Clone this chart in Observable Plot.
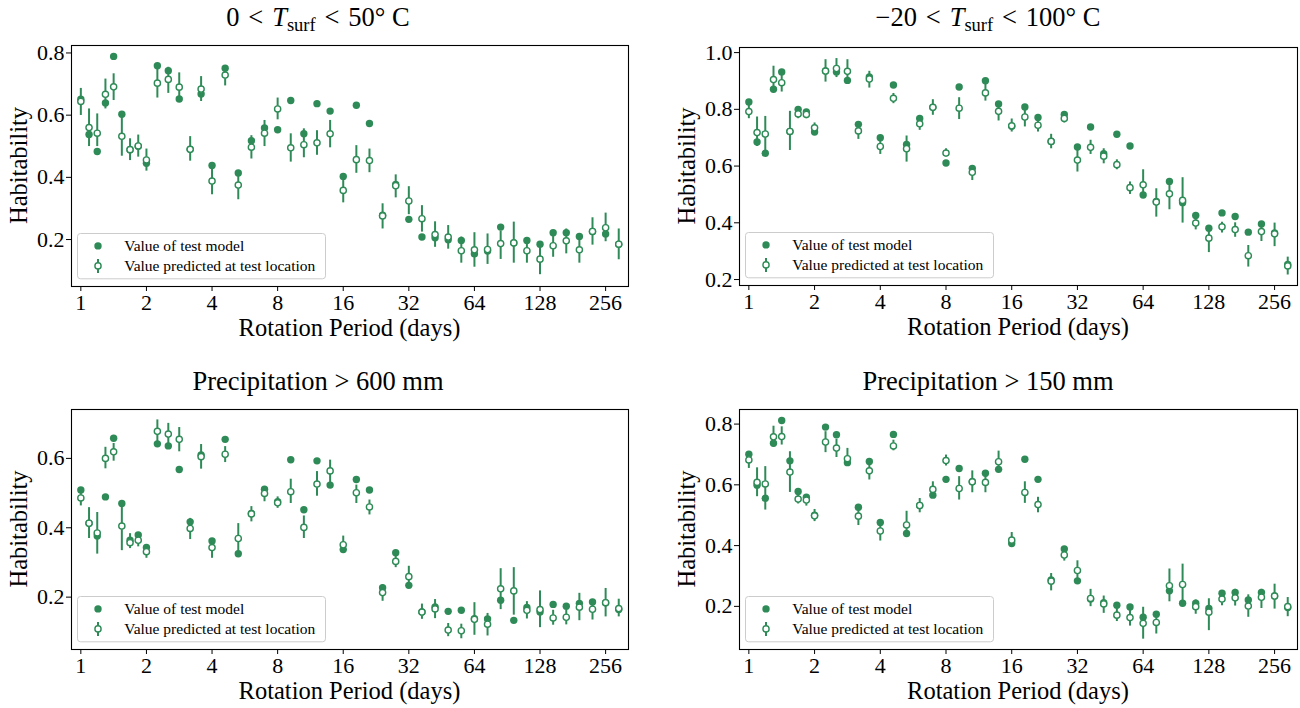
<!DOCTYPE html>
<html><head><meta charset="utf-8">
<script src="https://cdn.jsdelivr.net/npm/d3@7"></script>
<script src="https://cdn.jsdelivr.net/npm/@observablehq/plot@0.6"></script>
<style>
html,body{margin:0;padding:0;background:#fff;}
#root{position:relative;width:1300px;height:708px;overflow:hidden;font-family:"Liberation Serif","Times New Roman",serif;}
#root > svg{position:absolute;}
</style></head><body><div id="root"></div><script>
// ---------- data ----------
const periods = [1, 1.0905, 1.1892, 1.2968, 1.4142, 1.5422, 1.6818, 1.834, 2,
  2.2449, 2.5198, 2.8284, 3.1748, 3.5636, 4,
  4.5948, 5.278, 6.0629, 6.9644, 8, 9.1896, 10.556, 12.126, 13.929, 16,
  18.379, 21.112, 24.251, 27.858, 32, 36.758, 42.224, 48.503, 55.715, 64,
  73.517, 84.449, 97.006, 111.43, 128, 147.03, 168.9, 194.01, 222.86, 256, 294.07];
const xTicks = [1, 2, 4, 8, 16, 32, 64, 128, 256];
const legendLabels = ["Value of test model", "Value predicted at test location"];
const yLabel = "Habitability";
const xLabel = "Rotation Period (days)";

// Panel A: 0 < T_surf < 50 C
const modelA = [0.651,0.538,0.483,0.639,0.789,0.603,0.489,0.500,0.445,0.759,0.743,0.652,0.490,0.668,0.438,0.751,0.414,0.518,0.559,0.553,0.647,0.540,0.637,0.613,0.403,0.632,0.573,0.278,0.377,0.265,0.208,0.206,0.199,0.197,0.154,0.163,0.240,0.190,0.197,0.185,0.222,0.222,0.210,0.226,0.218,0.185];
const predA  = [0.644,0.560,0.542,0.667,0.691,0.532,0.489,0.501,0.456,0.703,0.715,0.690,0.490,0.684,0.388,0.729,0.375,0.497,0.542,0.620,0.495,0.505,0.511,0.540,0.358,0.457,0.454,0.276,0.373,0.324,0.267,0.216,0.208,0.164,0.167,0.168,0.187,0.189,0.164,0.137,0.180,0.196,0.167,0.226,0.238,0.185];
const loA    = [0.599,0.499,0.499,0.620,0.647,0.468,0.454,0.465,0.420,0.655,0.670,0.647,0.452,0.644,0.344,0.694,0.328,0.459,0.499,0.585,0.449,0.463,0.471,0.495,0.318,0.413,0.415,0.234,0.334,0.280,0.224,0.175,0.169,0.124,0.111,0.120,0.136,0.124,0.124,0.087,0.143,0.154,0.124,0.182,0.193,0.135];
const hiA    = [0.686,0.620,0.604,0.716,0.733,0.602,0.524,0.536,0.491,0.749,0.754,0.736,0.531,0.724,0.427,0.754,0.414,0.534,0.583,0.655,0.540,0.556,0.550,0.583,0.400,0.502,0.491,0.315,0.408,0.370,0.309,0.257,0.245,0.208,0.222,0.218,0.227,0.256,0.202,0.184,0.218,0.234,0.208,0.270,0.285,0.234];

// Panel B: -20 < T_surf < 100 C
const modelB = [0.826,0.685,0.645,0.871,0.932,0.722,0.800,0.791,0.720,0.935,0.932,0.902,0.747,0.914,0.700,0.886,0.676,0.768,0.807,0.611,0.879,0.592,0.901,0.819,0.740,0.808,0.771,0.687,0.782,0.667,0.738,0.644,0.712,0.671,0.498,0.475,0.546,0.471,0.426,0.381,0.435,0.422,0.367,0.396,0.364,0.253];
const predB  = [0.792,0.718,0.713,0.905,0.894,0.722,0.784,0.782,0.735,0.935,0.944,0.934,0.724,0.907,0.669,0.839,0.661,0.749,0.807,0.646,0.804,0.578,0.858,0.793,0.742,0.773,0.744,0.687,0.768,0.621,0.666,0.635,0.605,0.524,0.534,0.473,0.502,0.479,0.399,0.346,0.386,0.376,0.284,0.369,0.361,0.248];
const loB    = [0.767,0.669,0.638,0.865,0.861,0.655,0.767,0.767,0.720,0.896,0.912,0.896,0.694,0.875,0.641,0.820,0.614,0.726,0.779,0.632,0.764,0.549,0.829,0.759,0.720,0.738,0.720,0.661,0.752,0.579,0.641,0.608,0.587,0.500,0.491,0.420,0.446,0.399,0.375,0.295,0.364,0.349,0.244,0.334,0.316,0.216];
const hiB    = [0.814,0.773,0.775,0.952,0.926,0.793,0.802,0.796,0.752,0.975,0.979,0.975,0.744,0.934,0.691,0.856,0.706,0.773,0.834,0.661,0.841,0.596,0.891,0.820,0.766,0.796,0.764,0.712,0.791,0.664,0.691,0.661,0.622,0.544,0.587,0.520,0.544,0.559,0.420,0.385,0.402,0.400,0.320,0.391,0.399,0.279];

// Panel C: Precipitation > 600 mm
const modelC = [0.509,0.413,0.376,0.489,0.658,0.470,0.364,0.379,0.343,0.642,0.636,0.568,0.417,0.610,0.362,0.655,0.325,0.441,0.511,0.475,0.596,0.452,0.593,0.523,0.337,0.539,0.509,0.227,0.328,0.234,0.157,0.172,0.159,0.162,0.138,0.137,0.191,0.133,0.170,0.157,0.179,0.174,0.182,0.186,0.184,0.164];
const predC  = [0.486,0.413,0.385,0.600,0.619,0.405,0.357,0.364,0.331,0.678,0.670,0.655,0.398,0.605,0.343,0.612,0.369,0.440,0.499,0.472,0.504,0.401,0.526,0.564,0.351,0.501,0.460,0.213,0.303,0.259,0.157,0.166,0.105,0.103,0.136,0.122,0.224,0.218,0.162,0.164,0.140,0.142,0.171,0.165,0.184,0.167];
const loC    = [0.463,0.369,0.324,0.570,0.592,0.334,0.340,0.345,0.312,0.643,0.636,0.619,0.366,0.569,0.312,0.588,0.326,0.417,0.475,0.456,0.470,0.369,0.491,0.516,0.326,0.470,0.437,0.188,0.285,0.228,0.136,0.138,0.086,0.080,0.090,0.088,0.164,0.148,0.137,0.112,0.119,0.120,0.132,0.134,0.143,0.143];
const hiC    = [0.499,0.458,0.444,0.632,0.643,0.462,0.383,0.384,0.345,0.711,0.701,0.689,0.427,0.640,0.364,0.634,0.412,0.461,0.518,0.489,0.540,0.434,0.562,0.595,0.376,0.523,0.480,0.235,0.321,0.289,0.180,0.193,0.124,0.122,0.184,0.153,0.282,0.285,0.187,0.218,0.162,0.164,0.211,0.193,0.225,0.194];

// Panel D: Precipitation > 150 mm
const modelD = [0.701,0.599,0.556,0.737,0.812,0.679,0.578,0.559,0.500,0.790,0.765,0.673,0.526,0.677,0.476,0.766,0.440,0.532,0.566,0.618,0.654,0.610,0.638,0.651,0.407,0.684,0.618,0.287,0.389,0.284,0.224,0.212,0.204,0.198,0.164,0.174,0.251,0.210,0.210,0.193,0.243,0.246,0.221,0.246,0.234,0.196];
const predD  = [0.682,0.608,0.603,0.758,0.759,0.642,0.553,0.550,0.498,0.741,0.721,0.686,0.497,0.646,0.448,0.728,0.468,0.532,0.585,0.680,0.588,0.610,0.608,0.676,0.418,0.575,0.535,0.283,0.369,0.318,0.226,0.208,0.171,0.163,0.144,0.147,0.268,0.272,0.199,0.181,0.224,0.228,0.201,0.230,0.234,0.199];
const loD    = [0.654,0.561,0.517,0.725,0.731,0.575,0.537,0.530,0.479,0.706,0.690,0.662,0.466,0.616,0.415,0.712,0.429,0.508,0.561,0.662,0.550,0.574,0.574,0.649,0.394,0.539,0.508,0.251,0.349,0.287,0.199,0.177,0.150,0.135,0.092,0.109,0.215,0.213,0.174,0.120,0.202,0.201,0.164,0.193,0.191,0.166];
const hiD    = [0.701,0.656,0.660,0.793,0.791,0.709,0.568,0.566,0.519,0.775,0.750,0.720,0.517,0.676,0.470,0.747,0.513,0.555,0.610,0.698,0.627,0.646,0.640,0.711,0.443,0.610,0.559,0.308,0.387,0.350,0.256,0.234,0.193,0.188,0.197,0.178,0.323,0.339,0.221,0.225,0.251,0.256,0.238,0.256,0.273,0.229];

// ---------- layout ----------
const green = "#2e8b57";
const FONT = '"Liberation Serif", "Times New Roman", serif';
const panels = [
  {model: modelA, pred: predA, lo: loA, hi: hiA, yDomain: [0.049, 0.824], yTicks: [0.2,0.4,0.6,0.8],
   left: 0, top: 0, width: 650, height: 330, mL: 71, mR: 22, mT: 45, mB: 44,
   title: "A", titleX: 318, titleY: 26},
  {model: modelB, pred: predB, lo: loB, hi: hiB, yDomain: [0.179, 1.018], yTicks: [0.2,0.4,0.6,0.8,1.0],
   left: 650, top: 0, width: 650, height: 330, mL: 89, mR: 3, mT: 47, mB: 45,
   title: "B", titleX: 988, titleY: 26},
  {model: modelC, pred: predC, lo: loC, hi: hiC, yDomain: [0.049, 0.741], yTicks: [0.2,0.4,0.6],
   left: 0, top: 354, width: 650, height: 354, mL: 71, mR: 22, mT: 55, mB: 59,
   title: "Precipitation > 600 mm", titleX: 318, titleY: 390},
  {model: modelD, pred: predD, lo: loD, hi: hiD, yDomain: [0.058, 0.848], yTicks: [0.2,0.4,0.6,0.8],
   left: 650, top: 354, width: 650, height: 354, mL: 89, mR: 3, mT: 55, mB: 59,
   title: "Precipitation > 150 mm", titleX: 988, titleY: 390}
];

const root = document.getElementById("root");

for (const p of panels) {
  const rows = periods.map((x, i) => ({x, m: p.model[i], pr: p.pred[i], lo: p.lo[i], hi: p.hi[i]}));
  const svg = Plot.plot({
    width: p.width, height: p.height,
    marginLeft: p.mL, marginRight: p.mR, marginTop: p.mT, marginBottom: p.mB,
    style: {fontFamily: FONT, fontSize: "22px", color: "#000", background: "transparent", overflow: "visible"},
    x: {type: "log", base: 2, domain: [0.906, 326]},
    y: {domain: p.yDomain},
    marks: [
      Plot.axisX({ticks: xTicks, tickFormat: d => String(d), tickSize: 5, tickPadding: 3, label: null, fontSize: 22}),
      Plot.axisY({ticks: p.yTicks, tickFormat: d3.format(".1f"), tickSize: 5, tickPadding: 2, label: null, fontSize: 22}),
      Plot.dot(rows, {x: "x", y: "m", r: 3.7, fill: green}),
      Plot.ruleX(rows, {x: "x", y1: "lo", y2: "hi", stroke: green, strokeWidth: 2}),
      Plot.dot(rows, {x: "x", y: "pr", r: 3.1, fill: "white", stroke: green, strokeWidth: 1.4}),
      Plot.frame({stroke: "#000", strokeWidth: 1.1})
    ]
  });
  svg.style.left = p.left + "px";
  svg.style.top = p.top + "px";
  svg.style.fontFamily = FONT;
  root.appendChild(svg);
  p.frame = {l: p.left + p.mL, r: p.left + p.width - p.mR, t: p.top + p.mT, b: p.top + p.height - p.mB};
}

// ---------- text & legend overlay ----------
const ov = d3.select(root).append("svg")
  .attr("width", 1300).attr("height", 708)
  .style("left", "0px").style("top", "0px")
  .style("font-family", FONT);

const rel = "\u200A<\u200A"; // relation with slightly wider (math-like) spacing
function mathTitle(g, x, y, lead, tail) {
  const t = g.append("text").attr("x", x).attr("y", y).attr("text-anchor", "middle")
    .attr("font-size", 26.5).attr("fill", "#000");
  t.append("tspan").text(lead);
  t.append("tspan").attr("font-style", "italic").text("T");
  t.append("tspan").attr("font-size", 18.5).attr("dy", 5).text("surf");
  t.append("tspan").attr("dy", -5).text(tail);
}

for (const p of panels) {
  const f = p.frame;
  if (p.title === "A") mathTitle(ov, p.titleX, p.titleY, "0 " + rel + " ", " " + rel + " 50° C");
  else if (p.title === "B") mathTitle(ov, p.titleX, p.titleY, "\u221220 " + rel + " ", " " + rel + " 100° C");
  else ov.append("text").attr("x", p.titleX).attr("y", p.titleY).attr("text-anchor", "middle")
    .attr("font-size", 26.5).text(p.title);

  // x label
  ov.append("text").attr("x", (f.l + f.r) / 2).attr("y", f.b + 50).attr("text-anchor", "middle")
    .attr("font-size", 24.5).text(xLabel);
  // y label
  const yc = (f.t + f.b) / 2, xl = f.l - 44;
  ov.append("text").attr("transform", `translate(${xl},${yc}) rotate(-90)`).attr("text-anchor", "middle")
    .attr("font-size", 24.5).text(yLabel);

  // legend
  const lx = f.l + 6.5, ly = f.b - 52.5;
  const lg = ov.append("g");
  lg.append("rect").attr("x", lx).attr("y", ly).attr("width", 248).attr("height", 45.3)
    .attr("rx", 3).attr("fill", "white").attr("fill-opacity", 0.8).attr("stroke", "#cccccc").attr("stroke-width", 1);
  const mx = lx + 20.5, r1 = ly + 12.4, r2 = ly + 32.4, tx = lx + 46.7;
  lg.append("circle").attr("cx", mx).attr("cy", r1).attr("r", 3.7).attr("fill", green);
  lg.append("line").attr("x1", mx).attr("x2", mx).attr("y1", r2 - 7).attr("y2", r2 + 7).attr("stroke", green).attr("stroke-width", 2);
  lg.append("circle").attr("cx", mx).attr("cy", r2).attr("r", 3.1).attr("fill", "white").attr("stroke", green).attr("stroke-width", 1.4);
  lg.append("text").attr("x", tx).attr("y", r1 + 5).attr("font-size", 15.5).text(legendLabels[0]);
  lg.append("text").attr("x", tx).attr("y", r2 + 5).attr("font-size", 15.5).text(legendLabels[1]);
}
</script></body></html>
